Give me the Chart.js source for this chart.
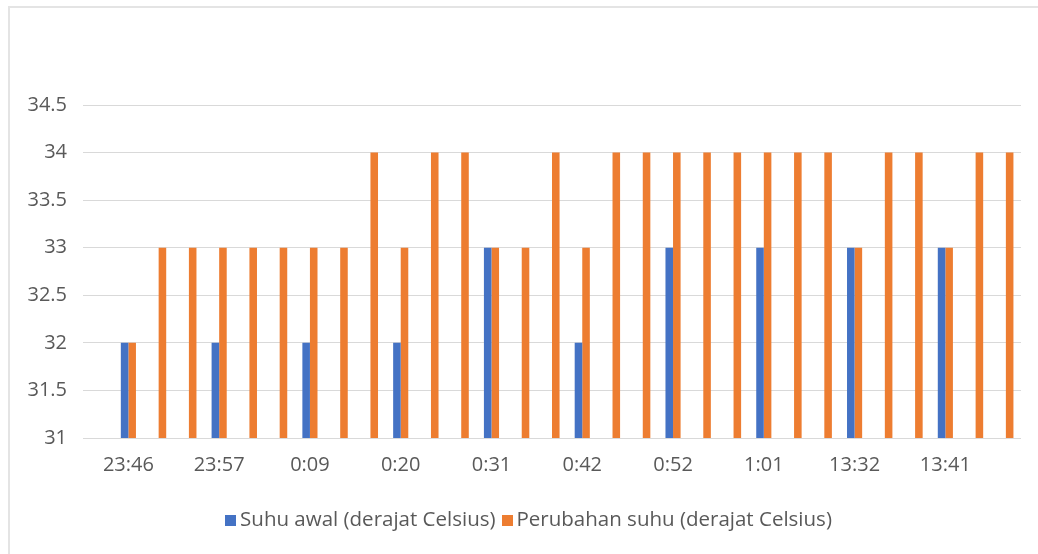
<!DOCTYPE html>
<html>
<head>
<meta charset="utf-8">
<script src="https://cdn.jsdelivr.net/npm/chart.js@4/dist/chart.umd.min.js"></script>
<style>
  html, body { margin: 0; padding: 0; background: #fff; }
  #wrap { position: relative; width: 1038px; height: 554px; }
  #frame { position: absolute; left: 8px; top: 6px; right: 0; bottom: 0;
           border-left: 2px solid #e4e4e4; border-top: 2px solid #e4e4e4; pointer-events: none; }
  canvas { position: absolute; left: 0; top: 0; }
</style>
</head>
<body>
<div id="wrap">
  <canvas id="chart" width="1038" height="554"></canvas>
  <div id="frame"></div>
</div>
<script>
// Time stamps (only every third one is shown on the axis in the original)
const categories = [
  '', '23:46', '', '', '23:57', '', '', '0:09', '', '', '0:20', '', '', '0:31', '', '',
  '0:42', '', '', '0:52', '', '', '1:01', '', '', '13:32', '', '', '13:41', '', ''
];

// Suhu awal (derajat Celsius)
const suhuAwal = [
  null, 32, null, null, 32, null, null, 32, null, null, 32, null, null, 33, null, null,
  32, null, null, 33, null, null, 33, null, null, 33, null, null, 33, null, null
];

// Perubahan suhu (derajat Celsius)
const perubahanSuhu = [
  null, 32, 33, 33, 33, 33, 33, 33, 33, 34, 33, 34, 34, 33, 33, 34,
  33, 34, 34, 34, 34, 34, 34, 34, 34, 33, 34, 34, 33, 34, 34
];

const yMin = 31;
const yMax = 34.5;
const yStep = 0.5;

const FONT = '"Open Sans", sans-serif';
const TEXT_COLOR = '#595959';

// Excel-style legend: small squares close to the text, centred a bit right of the canvas middle
const excelLegend = {
  id: 'excelLegend',
  afterDraw(chart) {
    const c = chart.ctx;
    const items = chart.data.datasets.map(ds => ({ text: ds.label, color: ds.backgroundColor }));
    const box = 11, gap = 4, itemGap = 6;
    c.save();
    c.font = '20.5px ' + FONT;
    c.textBaseline = 'middle';
    const widths = items.map(it => c.measureText(it.text).width);
    const total = widths.reduce((a, w) => a + box + gap + w, 0) + itemGap * (items.length - 1);
    let x = 528.5 - total / 2;
    const y = 520;
    items.forEach((it, i) => {
      c.fillStyle = it.color;
      c.fillRect(Math.round(x), y - 5, box, box);
      x += box + gap;
      c.fillStyle = TEXT_COLOR;
      c.fillText(it.text, x, y);
      x += widths[i] + itemGap;
    });
    c.restore();
  }
};

const ctx = document.getElementById('chart').getContext('2d');
new Chart(ctx, {
  type: 'bar',
  data: {
    labels: categories,
    datasets: [
      {
        label: 'Suhu awal (derajat Celsius)',
        data: suhuAwal,
        backgroundColor: '#4472C4',
        categoryPercentage: 0.5,
        barPercentage: 1.0
      },
      {
        label: 'Perubahan suhu (derajat Celsius)',
        data: perubahanSuhu,
        backgroundColor: '#ED7D31',
        categoryPercentage: 0.5,
        barPercentage: 1.0
      }
    ]
  },
  options: {
    responsive: false,
    animation: false,
    layout: {
      padding: { top: 105, right: 17, bottom: 54, left: 0 }
    },
    scales: {
      x: {
        grid: { display: false },
        border: { display: false },
        ticks: {
          autoSkip: false,
          maxRotation: 0,
          padding: 7,
          color: TEXT_COLOR,
          font: { family: FONT, size: 20 }
        },
        afterFit: (scale) => { scale.height = 62; }
      },
      y: {
        min: yMin,
        max: yMax,
        grid: { color: '#d9d9d9', drawTicks: false },
        border: { display: false },
        ticks: {
          stepSize: yStep,
          padding: 16,
          color: TEXT_COLOR,
          font: { family: FONT, size: 20 },
          callback: (v) => String(v)
        },
        afterFit: (scale) => { scale.width = 83; }
      }
    },
    plugins: {
      legend: { display: false },
      tooltip: { enabled: false }
    }
  },
  plugins: [excelLegend]
});
</script>
</body>
</html>
